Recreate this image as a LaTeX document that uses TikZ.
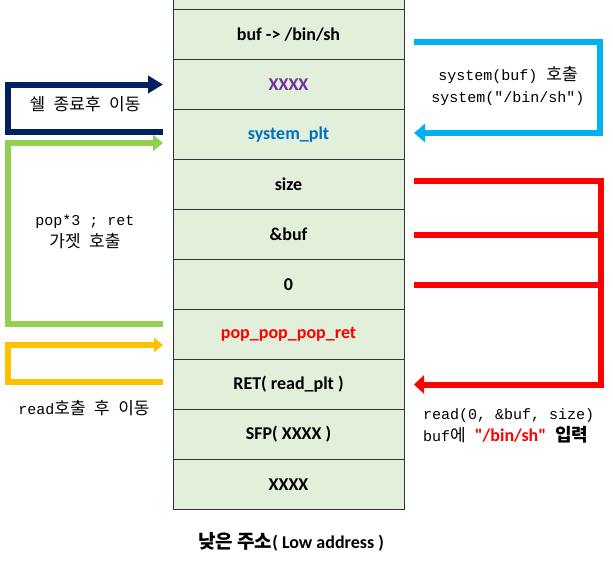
\documentclass[tikz,border=0pt]{standalone}
\usepackage{fontspec}
\setmainfont{Carlito}
\setmonofont{Liberation Mono}
\newfontfamily\krfont{Noto Sans CJK KR}
\newfontfamily\plainfont{Carlito}
\usetikzlibrary{arrows.meta, positioning}
\definecolor{cellgreen}{HTML}{E2EFDA}
\definecolor{navyarr}{HTML}{002060}
\definecolor{bluearr}{HTML}{00B0F0}
\definecolor{greenarr}{HTML}{92D050}
\definecolor{yellowarr}{HTML}{FFC000}
\definecolor{redarr}{HTML}{FF0000}
\definecolor{purpletxt}{HTML}{7030A0}
\definecolor{bluetxt}{HTML}{0070C0}
\newcommand{\ko}[1]{{\krfont\fontsize{17}{22}\selectfont\spaceskip=0.5em #1}}

\begin{document}
\begin{tikzpicture}[x=1pt, y=1pt,
  cell/.style={draw=black!80, line width=1pt, fill=cellgreen,
    minimum width=231pt, minimum height=50pt, inner sep=0pt, outer sep=0pt,
    font=\bfseries\fontsize{18}{20}\selectfont},
  note/.style={align=center, inner sep=0pt,
    font=\ttfamily\fontsize{15}{22}\selectfont},
  flow/.style={line width=6pt, line join=miter}
]
\path[use as bounding box, clip] (0,0) rectangle (613,-560);

% stack frame
\node[cell] (buf) at (288.5,-34.5) {buf -> /bin/sh};
\node[cell, above=0pt of buf] (above) {};
\node[cell, below=0pt of buf, text=purpletxt] (dummy) {XXXX};
\node[cell, below=0pt of dummy, text=bluetxt] (sysplt) {system\_plt};
\node[cell, below=0pt of sysplt] (size) {size};
\node[cell, below=0pt of size] (andbuf) {\&buf};
\node[cell, below=0pt of andbuf] (zero) {0};
\node[cell, below=0pt of zero, text=redarr] (pppr) {pop\_pop\_pop\_ret};
\node[cell, below=0pt of pppr] (ret) {RET( read\_plt )};
\node[cell, below=0pt of ret] (sfp) {SFP( XXXX )};
\node[cell, below=0pt of sfp] (bottom) {XXXX};

\node[inner sep=0pt] (lowaddr) at (291,-542)
    {{\krfont\bfseries\fontsize{19}{20}\selectfont 낮은 주소}\bfseries\fontsize{18}{20}\selectfont( Low address )};

% notes
\node[note] (shellnote) at (85,-104) {\ko{쉘 종료후 이동}};
\node[note] (popnote) at (85,-232) {pop*3 ; ret\\\ko{가젯 호출}};
\node[note] (readmove) at (84,-408) {read\ko{호출 후 이동}};
\node[note] (sysnote) at (508,-86) {system(buf) \ko{호출}\\system("/bin/sh")};
\node[note, anchor=west, align=left] (readnote) at (423,-426)
    {read(0, \&buf, size)\\buf\ko{에} {\plainfont\bfseries\fontsize{18}{22}\selectfont\color{redarr}"/bin/sh"} {\krfont\bfseries\fontsize{18}{22}\selectfont 입력}};

% flows
\draw[flow, navyarr, -{Triangle[length=15pt, width=17pt]}]
    ([xshift=-10pt, yshift=2.5pt]sysplt.west) -- ++(-155,0)
    |- ([xshift=-10pt]dummy.west);
\draw[flow, greenarr, -{Triangle[length=10pt, width=16pt]}]
    ([xshift=-10pt, yshift=10.5pt]pppr.west) -- ++(-155,0)
    |- ([xshift=-10pt, yshift=-8.5pt]sysplt.west);
\draw[flow, yellowarr, -{Triangle[length=9pt, width=14pt]}]
    ([xshift=-10pt, yshift=2.5pt]ret.west) -- ++(-155,0)
    |- ([xshift=-10pt, yshift=-10.5pt]pppr.west);
\draw[flow, bluearr, -{Triangle[length=11pt, width=18pt]}]
    ([xshift=10pt, yshift=-7.5pt]buf.east) -- ++(186,0)
    |- ([xshift=10pt, yshift=1.5pt]sysplt.east);
\draw[flow, redarr, -{Triangle[length=10pt, width=18pt]}]
    ([xshift=10pt, yshift=3.5pt]size.east) -- ++(187,0)
    |- ([xshift=10pt]ret.east);
\draw[flow, redarr] ([xshift=10pt]andbuf.east) -- ++(187,0);
\draw[flow, redarr] ([xshift=10pt]zero.east) -- ++(187,0);
\end{tikzpicture}
\end{document}
